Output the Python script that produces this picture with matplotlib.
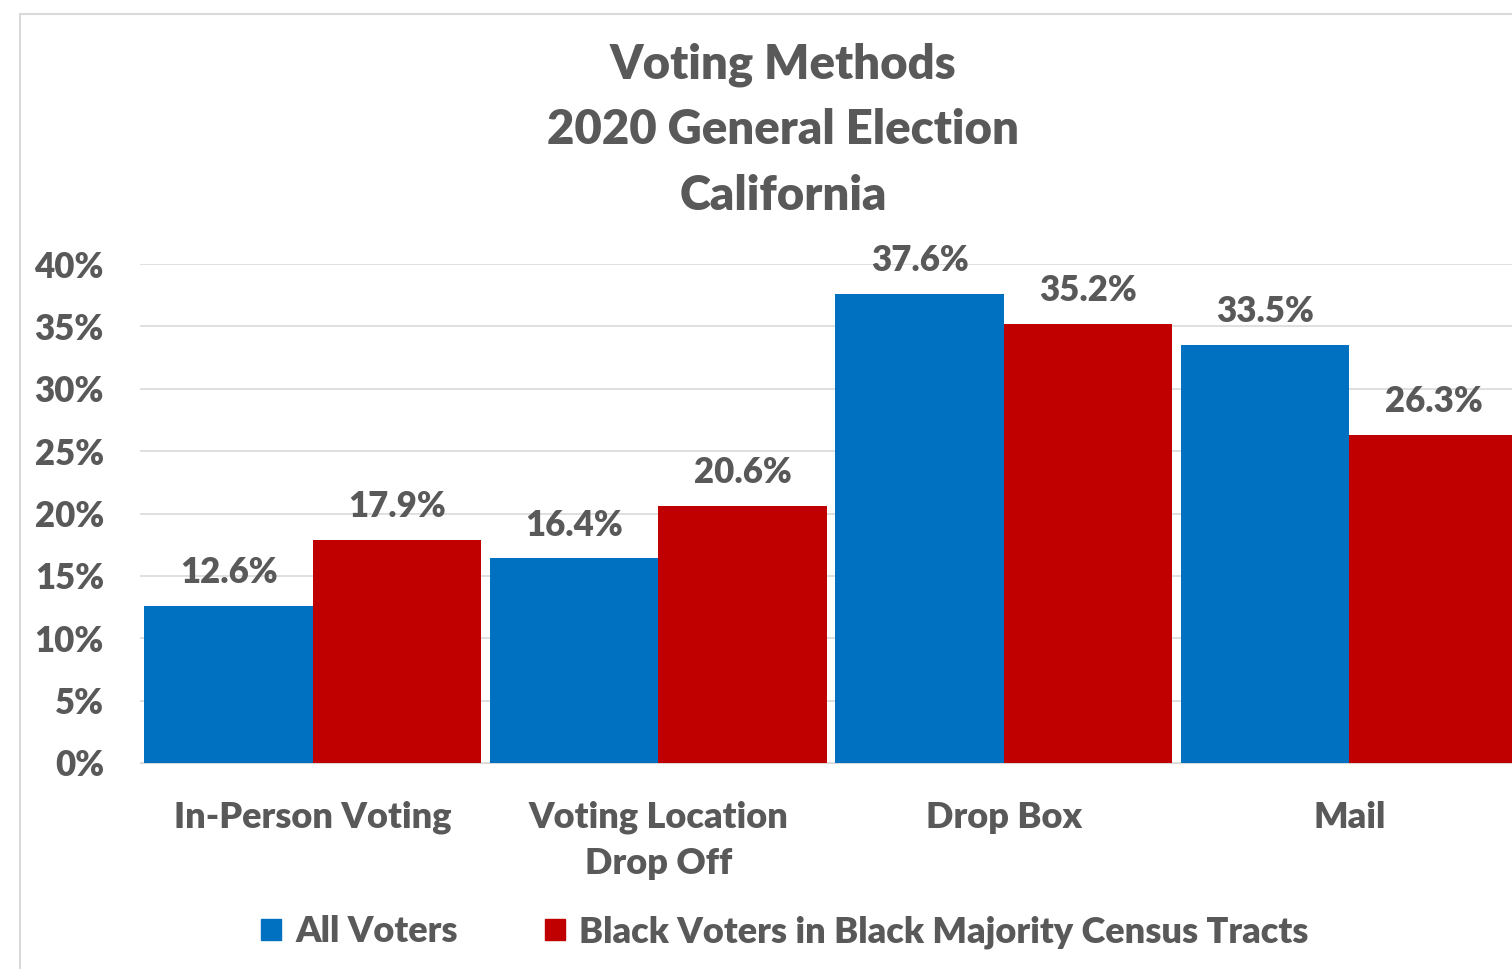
import matplotlib
matplotlib.use("Agg")
import matplotlib.pyplot as plt
from matplotlib.patches import Rectangle, Patch
import numpy as np

categories = ["In-Person Voting", "Voting Location\nDrop Off", "Drop Box", "Mail"]
all_voters = [12.6, 16.4, 37.6, 33.5]
black_voters = [17.9, 20.6, 35.2, 26.3]
series_names = ["All Voters", "Black Voters in Black Majority Census Tracts"]
yticks = [0, 5, 10, 15, 20, 25, 30, 35, 40]
title = "Voting Methods\n2020 General Election\nCalifornia"

BLUE = "#0070C0"
RED = "#C00000"
TXT = "#595959"
FONT = "Lato"
WT = 800

plt.rcParams['font.family'] = [FONT, 'DejaVu Sans']
plt.rcParams['font.weight'] = WT

W, H = 1512, 969
fig = plt.figure(figsize=(W / 100, H / 100), dpi=100)
fig.patch.set_facecolor("white")

# chart frame (cropped at right and bottom)
fig.patches.append(Rectangle((20 / W, -0.1), 2.0, 1 - 14 / H + 0.1, transform=fig.transFigure,
                             fill=False, edgecolor="#D9D9D9", linewidth=1.5, zorder=0))

ax_left, ax_right = 140, 1522
ax_top, ax_bot = 264, 763
ax = fig.add_axes([ax_left / W, 1 - ax_bot / H, (ax_right - ax_left) / W, (ax_bot - ax_top) / H])
ax.set_facecolor("none")

x = np.arange(len(categories))
bw = 0.487
b1 = ax.bar(x - bw / 2, all_voters, bw, color=BLUE, zorder=3, label=series_names[0])
b2 = ax.bar(x + bw / 2, black_voters, bw, color=RED, zorder=3, label=series_names[1])

for bars, vals in ((b1, all_voters), (b2, black_voters)):
    for rect, v in zip(bars, vals):
        ax.annotate(f"{v:.1f}%", (rect.get_x() + rect.get_width() / 2, v),
                    xytext=(0, 12), textcoords="offset points", ha="center", va="bottom",
                    fontsize=25, color=TXT, fontweight=WT)

ax.set_xlim(-0.5, len(categories) - 0.5)
ax.set_ylim(0, 40)
ax.set_yticks(yticks)
ax.set_yticklabels([f"{t}%" for t in yticks])
ax.set_xticks(x)
ax.set_xticklabels(categories, linespacing=1.5)
ax.grid(axis="y", color="#D9D9D9", linewidth=1.2, zorder=0)
ax.set_axisbelow(True)
for s in ["top", "right", "left"]:
    ax.spines[s].set_visible(False)
ax.spines["bottom"].set_color("#D9D9D9")
ax.tick_params(axis="both", length=0, colors=TXT)
ax.tick_params(axis="y", labelsize=25, pad=26)
ax.tick_params(axis="x", labelsize=26, pad=27)
for lab in ax.get_xticklabels() + ax.get_yticklabels():
    lab.set_fontweight(WT)
    lab.set_color(TXT)

fig.text(783 / W, 1 - 130 / H, title, ha="center", va="center", fontsize=34,
         color=TXT, fontweight=WT, linespacing=1.6)

handles = [Patch(color=BLUE), Patch(color=RED)]
leg = fig.legend(handles, series_names, loc="center", bbox_to_anchor=(785 / W, 1 - 932 / H),
                 ncol=2, frameon=False, fontsize=26, handlelength=0.55, handleheight=0.55,
                 handletextpad=0.4, columnspacing=2.4)
for t in leg.get_texts():
    t.set_color(TXT)
    t.set_fontweight(WT)

fig.savefig("out.png", dpi=100, facecolor="white")
